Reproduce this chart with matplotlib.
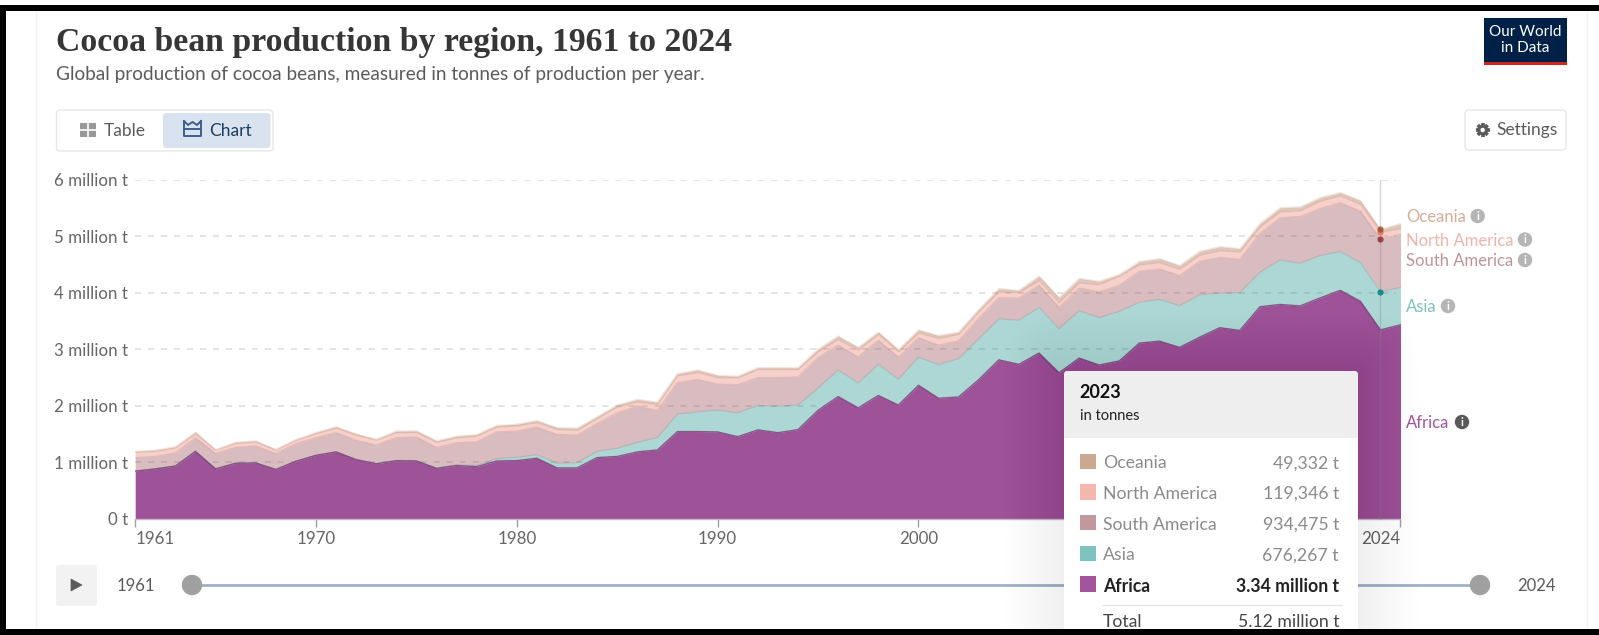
#!/usr/bin/env python3

import matplotlib
matplotlib.use("Agg")
import matplotlib.pyplot as plt
import numpy as np
from matplotlib.patches import FancyBboxPatch, Rectangle, Circle, Polygon

plt.rcParams['font.family'] = ['Lato', 'DejaVu Sans']

# million tonnes per year
years = list(range(1961, 2025))

africa = [.84, .88, .93, 1.19, .88, .98, .985, .87, 1.015, 1.12, 1.18, 1.045, .97, 1.025, 1.02, .89,
          .94, .92, 1.02, 1.027, 1.068, .897, .897, 1.08, 1.10, 1.18, 1.215, 1.54, 1.54, 1.534,
          1.45, 1.57, 1.52, 1.575, 1.917, 2.16, 1.96, 2.18, 2.01, 2.36,
          2.13, 2.153, 2.46, 2.81, 2.73, 2.93, 2.58, 2.84, 2.717, 2.79,
          3.106, 3.14, 3.03, 3.21, 3.378, 3.33, 3.75, 3.79, 3.764, 3.906,
          4.04, 3.847, 3.34, 3.43]
asia = [0, 0, 0, 0, 0, 0, 0, 0, 0, 0, 0, 0, .002, .005, .003, .002,
        .01, .02, .04, .058, .062, .083, .093, .11, .145, .17, .219, .31, .348, .386,
        .42, .43, .47, .435, .393, .47, .44, .55, .456, .495,
        .596, .677, .726, .725, .78, .807, .78, .84, .838, .877,
        .724, .74, .737, .75, .612, .67, .61, .785, .756, .749,
        .686, .683, .676, .66]
south_america = [.24, .22, .23, .24, .27, .28, .30, .28, .31, .31, .34, .34, .33, .40, .42, .365,
                 .39, .417, .474, .461, .49, .51, .485, .49, .625, .64, .476, .557, .572, .458,
                 .50, .495, .505, .497, .54, .44, .46, .426, .389, .345,
                 .344, .315, .354, .375, .39, .39, .377, .40, .455, .46,
                 .545, .536, .533, .59, .63, .587, .68, .745, .825, .832,
                 .864, .91, .934, .94]
north_america = [.09, .09, .09, .07, .06, .07, .07, .06, .06, .07, .08, .09, .085, .09, .08, .09,
                 .09, .10, .086, .094, .08, .085, .085, .09, .106, .075, .11, .118, .125, .117,
                 .12, .142, .142, .13, .10, .10, .12, .104, .095, .086,
                 .116, .115, .12, .10, .10, .083, .083, .09, .13, .163,
                 .115, .114, .11, .11, .12, .13, .12, .105, .10, .13,
                 .12, .117, .119, .10]
oceania = [.02, .02, .02, .03, .01, .02, .02, .015, .015, .025, .025, .025, .015, .03, .03, .03,
           .027, .03, .03, .03, .035, .035, .04, .035, .034, .045, .04, .041, .045, .04,
           .03, .033, .033, .033, .05, .06, .05, .04, .04, .054,
           .054, .04, .04, .06, .04, .08, .09, .08, .06, .03,
           .06, .07, .07, .07, .07, .06, .06, .075, .071, .063,
           .06, .071, .049, .09]

regions = ["Africa", "Asia", "South America", "North America", "Oceania"]
region_colors = ["#9E5298", "#00847E", "#883039", "#E56E5A", "#9A5129"]
region_alphas = [1.0, .32, .32, .32, .32]

y_ticks = [0, 1, 2, 3, 4, 5, 6]
y_labels = ["0 t", "1 million t", "2 million t", "3 million t", "4 million t", "5 million t", "6 million t"]
x_ticks = [1961, 1970, 1980, 1990, 2000, 2024]

tooltip_names = ["Oceania", "North America", "South America", "Asia", "Africa"]
tooltip_values = ["49,332 t", "119,346 t", "934,475 t", "676,267 t", "3.34 million t"]
tooltip_colors = ["#CBA890", "#F2B8AE", "#C2989F", "#80C2BD", "#A2559C"]

W, H = 1599, 635
fig = plt.figure(figsize=(W/100, H/100), dpi=100, facecolor='white')

# chart axes sits on the pixel positions of the reference
x0, x1, y0, y6 = 135.2, 1400.5, 518.6, 179.6
ax = fig.add_axes([x0/W, 1 - y0/H, (x1 - x0)/W, (y0 - y6)/H], zorder=1)
ax.patch.set_alpha(0)
ax.set_xlim(1961, 2024)
ax.set_ylim(0, 6)
for s in ['top', 'left', 'right']:
  ax.spines[s].set_visible(False)
ax.spines['bottom'].set_color('#C4B6C6')
ax.spines['bottom'].set_linewidth(1.0)

for t in y_ticks[1:]:
  ax.plot([1961, 2023.8], [t, t], color='#DDDDDD', lw=1.1, dashes=(4, 4.5), zorder=1)

stack = np.vstack([africa, asia, south_america, north_america, oceania])
tops = np.cumsum(stack, axis=0)
bottoms = np.vstack([np.zeros(len(years)), tops[:-1]])
for i, name in enumerate(regions):
  ax.fill_between(years, bottoms[i], tops[i], color=region_colors[i], alpha=region_alphas[i], lw=0, zorder=2)
for i in range(4, 0, -1):
  ax.plot(years, tops[i], color=region_colors[i], alpha=.14, lw=1.0, zorder=3)
ax.plot(years, tops[0], color='#7A3C76', alpha=.8, lw=1.0, zorder=3)

# hover line and dots for 2023
ax.plot([2023, 2023], [0, 6], color='#8A8A8A', alpha=.35, lw=1.0, zorder=4, clip_on=False)
ind = years.index(2023)
for i in range(1, 5):
  ax.scatter([2023], [tops[i][ind]], s=20, color=region_colors[i], alpha=.85, lw=0, zorder=5, clip_on=False)

ax.set_xticks(x_ticks)
ax.set_yticks(y_ticks)
ax.set_yticklabels(y_labels)
ax.tick_params(axis='y', length=0, pad=5, labelsize=12.2, labelcolor='#666666')
ax.tick_params(axis='x', length=6, width=1, color='#A0A0A0', pad=3, labelsize=12.2, labelcolor='#666666')
xt = ax.get_xticklabels()
xt[0].set_ha('left')
xt[-1].set_ha('right')

# everything else in pixel coordinates
ui = fig.add_axes([0, 0, 1, 1], zorder=2)
ui.set_xlim(0, W)
ui.set_ylim(H, 0)
ui.axis('off')
ui.patch.set_alpha(0)


def box(x, y, w, h, fc, ec='none', r=3, lw=1, z=2, alpha=None):
  p = FancyBboxPatch((x + r, y + r), w - 2*r, h - 2*r, boxstyle="round,pad={},rounding_size={}".format(r, r),
                     fc=fc, ec=ec, lw=lw, zorder=z, alpha=alpha)
  ui.add_patch(p)
  return p


def label(x, y, s, size=12, color='#5B5B5B', ha='left', va='center', z=6, **kw):
  return ui.text(x, y, s, fontsize=size, color=color, ha=ha, va=va, zorder=z, **kw)


def info(x, y, color):
  ui.add_patch(Circle((x, y), 7.2, fc=color, ec='none', zorder=6))
  ui.text(x, y, "i", fontsize=8, fontweight='bold', color='white', ha='center', va='center', zorder=7)


# page edge lines
ui.plot([36, 36], [11, 629], color='#F2F2F2', lw=1, zorder=1)
ui.plot([1587, 1587], [11, 629], color='#F2F2F2', lw=1, zorder=1)

# header
ui.text(56, 42.5, "Cocoa bean production by region, 1961 to 2024", fontsize=24.3, fontweight='bold',
        family='Liberation Serif', color='#363636', ha='left', va='center', zorder=6)
label(56, 74.5, "Global production of cocoa beans, measured in tonnes of production per year.", size=13.65)

# logo
ui.add_patch(Rectangle((1484, 18), 82.5, 43.5, fc='#002147', ec='none', zorder=3))
ui.add_patch(Rectangle((1484, 61.5), 82.5, 3.5, fc='#CE261E', ec='none', zorder=3))
label(1525, 32, "Our World", size=11, color='white', ha='center')
label(1525, 48, "in Data", size=11, color='white', ha='center')

# table / chart switch
box(56.5, 110, 216.5, 41, 'white', ec='#E7E7E7', r=4)
box(163, 113, 107.5, 35, '#D9E2EF', r=3, z=3)
ui.add_patch(Rectangle((80, 123), 15.5, 13.5, fc='#999999', ec='none', zorder=4))
ui.plot([87.8, 87.8], [123, 136.5], color='white', lw=1.2, zorder=5)
ui.plot([80, 95.5], [129.7, 129.7], color='white', lw=1.2, zorder=5)
label(103.5, 131, "Table", size=12.5)
ui.plot([184, 184, 201, 201], [121, 136, 136, 121], color='#3D5F8C', lw=1.4, zorder=4)
ui.plot([184, 188, 192.5, 197, 201], [121, 125, 122, 125, 121], color='#3D5F8C', lw=1.4, zorder=4)
ui.plot([184, 201], [129, 129], color='#3D5F8C', lw=1.4, zorder=4)
label(209, 131, "Chart", size=12.5, color='#1D3D63')

# settings
box(1465, 110, 101, 40, 'white', ec='#E7E7E7', r=4)
for a in np.radians([0, 45, 90, 135]):
  ui.plot([1482.7 - 7*np.cos(a), 1482.7 + 7*np.cos(a)], [130 - 7*np.sin(a), 130 + 7*np.sin(a)],
          color='#5B5B5B', lw=2.6, zorder=5, solid_capstyle='butt')
ui.add_patch(Circle((1482.7, 130), 5.4, fc='#5B5B5B', ec='none', zorder=5))
ui.add_patch(Circle((1482.7, 130), 2.2, fc='white', ec='none', zorder=6))
label(1496.5, 130, "Settings", size=12.5)

# line labels
label(1406, 216.5, "Oceania", size=12, color='#D2AE98')
info(1477.7, 216, '#B5B5B5')
label(1406, 240.5, "North America", size=12, color='#F0B4A9')
info(1525, 239.5, '#B5B5B5')
label(1406, 261, "South America", size=12, color='#BE949C')
info(1525, 260, '#B5B5B5')
label(1406, 307, "Asia", size=12, color='#7FC2BC')
info(1448, 306, '#B5B5B5')
label(1406, 423, "Africa", size=12, color='#A2559C')
info(1462, 422, '#5A5A5A')

# timeline
box(56, 565, 41, 41, '#F2F2F2', r=3)
ui.add_patch(Polygon([[71, 579], [71, 591], [82, 585]], closed=True, fc='#5B5B5B', ec='#5B5B5B', lw=.5, zorder=5))
label(117, 586, "1961", size=12)
label(1517, 586, "2024", size=12)
ui.plot([202, 1470], [585, 585], color='#9EB1C8', lw=2.0, zorder=3, solid_capstyle='round')
ui.add_patch(Circle((192, 585), 10.2, fc='#A0A0A0', ec='none', zorder=4))
ui.add_patch(Circle((1480, 585), 10.2, fc='#A0A0A0', ec='none', zorder=4))

# tooltip with a soft shadow round it
for pad in range(4, 64, 4):
  box(1064 - pad, 371 - pad, 294 + 2*pad, 330 + 2*pad, 'black', r=pad, z=7, alpha=.0035)
box(1064, 371, 294, 330, 'white', r=4, z=8)
box(1064, 371, 294, 67, '#EEEEEE', r=4, z=9)
ui.add_patch(Rectangle((1064, 420), 294, 18, fc='#EEEEEE', ec='none', zorder=9))
label(1079.5, 392.5, "2023", size=13, color='#111111', fontweight='bold', z=10)
label(1079.5, 416.5, "in tonnes", size=10.5, color='#222222', z=10)
row_y = 461.3
for i, (n, v, c) in enumerate(zip(tooltip_names, tooltip_values, tooltip_colors)):
  focus = n == "Africa"
  ui.add_patch(Rectangle((1080, row_y - 7.7), 15.5, 15.4, fc=c, ec='none', zorder=10))
  label(1103, row_y + 2, n, size=12.7, color='#222222' if focus else '#8A8A8A', z=10, fontweight='bold' if focus else 'normal')
  label(1339, row_y + 2, v, size=12.7, color='#222222' if focus else '#8A8A8A', ha='right', z=10, fontweight='bold' if focus else 'normal')
  row_y += 30.7
ui.plot([1103, 1342], [604.7, 604.7], color='#E5E5E5', lw=1, zorder=10)
label(1103, 622, "Total", size=12.7, color='#444444', z=10)
label(1339, 622, "5.12 million t", size=12.7, color='#444444', ha='right', z=10)

# screenshot border
ui.add_patch(Rectangle((0, 5), W, 6, fc='black', ec='none', zorder=20))
ui.add_patch(Rectangle((0, 5), 6, H - 5, fc='black', ec='none', zorder=20))
ui.add_patch(Rectangle((0, 629), W, 6, fc='black', ec='none', zorder=20))

fig.savefig("out.png", dpi=100)
